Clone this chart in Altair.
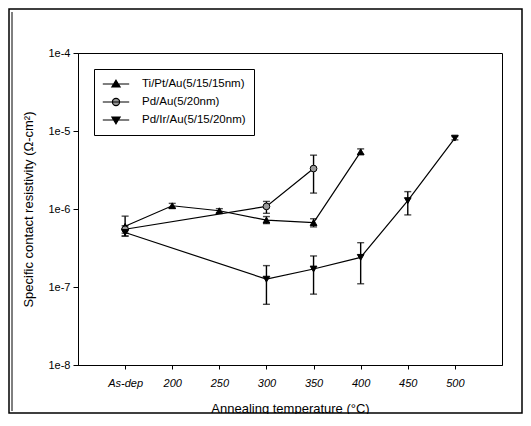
import altair as alt
import pandas as pd

# ---- data ----
series_names = ["Ti/Pt/Au(5/15/15nm)", "Pd/Au(5/20nm)", "Pd/Ir/Au(5/15/20nm)"]
x_ticks = [150, 200, 250, 300, 350, 400, 450, 500]   # 150 = As-dep
y_ticks = [1e-8, 1e-7, 1e-6, 1e-5, 1e-4]

ti_x = [150, 200, 250, 300, 350, 400]
ti_y = [6.0e-7, 1.10e-6, 9.5e-7, 7.2e-7, 6.7e-7, 5.4e-6]
ti_lo = [4.5e-7, 1.03e-6, 8.9e-7, 6.5e-7, 5.9e-7, 5.0e-6]
ti_hi = [8.1e-7, 1.18e-6, 1.01e-6, 8.0e-7, 7.5e-7, 5.9e-6]

pd_x = [150, 300, 350]
pd_y = [5.5e-7, 1.08e-6, 3.3e-6]
pd_lo = [4.9e-7, 8.8e-7, 1.6e-6]
pd_hi = [6.1e-7, 1.25e-6, 4.9e-6]

ir_x = [150, 300, 350, 400, 450, 500]
ir_y = [5.0e-7, 1.26e-7, 1.7e-7, 2.4e-7, 1.28e-6, 8.1e-6]
ir_lo = [4.5e-7, 6.0e-8, 8.1e-8, 1.1e-7, 8.4e-7, 7.7e-6]
ir_hi = [5.5e-7, 1.88e-7, 2.5e-7, 3.7e-7, 1.67e-6, 8.5e-6]

rows = []
for name, xs_, ys_, los, his in [
    (series_names[0], ti_x, ti_y, ti_lo, ti_hi),
    (series_names[1], pd_x, pd_y, pd_lo, pd_hi),
    (series_names[2], ir_x, ir_y, ir_lo, ir_hi),
]:
    for xv, yv, lo, hi in zip(xs_, ys_, los, his):
        rows.append({"series": name, "x": xv, "y": yv, "lo": lo, "hi": hi})
df = pd.DataFrame(rows)

W, H = 424, 312
PL, PT, PR, PB = 70, 45, 21, 49
FONT = "Liberation Sans"

xs = alt.Scale(domain=[100, 550], nice=False, zero=False)
ys = alt.Scale(type="log", domain=[1e-8, 1e-4], nice=False)

X = alt.X("x:Q", scale=xs, title="Annealing temperature (°C)",
          axis=alt.Axis(values=x_ticks, grid=False,
                        labelExpr="datum.value == 150 ? 'As-dep' : datum.label",
                        labelFontStyle="italic", labelFontSize=11, labelFont=FONT,
                        labelColor="black", tickColor="black", domainColor="black",
                        tickSize=4, labelPadding=8, titleFont=FONT, titleFontSize=13,
                        titleFontWeight="normal", titleColor="black", titlePadding=14))
Y = alt.Y("y:Q", scale=ys, title="Specific contact resistivity (Ω-cm²)",
          axis=alt.Axis(values=y_ticks, grid=False,
                        labelExpr="'1e' + round(log(datum.value)/LN10)",
                        labelFontSize=11, labelFont=FONT, labelColor="black",
                        tickColor="black", domainColor="black", tickSize=5,
                        labelPadding=3, titleFont=FONT, titleFontSize=13,
                        titleFontWeight="normal", titleColor="black", titlePadding=12))

base = alt.Chart(df)

lines = base.mark_line(color="black", strokeWidth=1.2).encode(
    x=X, y=Y, detail="series:N")

bars = base.mark_rule(color="black", strokeWidth=1.4).encode(
    x="x:Q", y="lo:Q", y2="hi:Q")
cap_lo = base.mark_tick(color="black", orient="horizontal", size=7, thickness=1.4).encode(
    x="x:Q", y="lo:Q")
cap_hi = base.mark_tick(color="black", orient="horizontal", size=7, thickness=1.4).encode(
    x="x:Q", y="hi:Q")

fill_range = ["black", "#9a9a9a", "black"]

markers = base.mark_point(filled=True, stroke="black", strokeWidth=1, opacity=1, size=45).encode(
    x="x:Q", y="y:Q",
    shape=alt.Shape("series:N", scale=alt.Scale(domain=series_names,
                    range=["triangle-up", "circle", "triangle-down"]), legend=None),
    fill=alt.Fill("series:N", scale=alt.Scale(domain=series_names, range=fill_range),
                  legend=None),
)

line_seg = "M-2.2,0H2.2"
paths = [
    line_seg + "M0,-0.62L0.68,0.5L-0.68,0.5Z",
    line_seg + "M0.6,0A0.6,0.6 0 1,1 -0.6,0A0.6,0.6 0 1,1 0.6,0Z",
    line_seg + "M0,0.62L0.68,-0.5L-0.68,-0.5Z",
]
leg = alt.Legend(title=None, orient="none", legendX=16, legendY=16,
                 symbolSize=144, symbolStrokeColor="black", symbolStrokeWidth=1.2,
                 symbolOpacity=1,
                 symbolOffset=7, labelOffset=19, labelFont=FONT, labelFontSize=11.5,
                 labelColor="black", rowPadding=5, padding=8,
                 strokeColor="black", fillColor="white")
legend_layer = base.mark_point(filled=True, strokeWidth=1.2, size=144, opacity=1).encode(
    x="x:Q", y="y:Q",
    shape=alt.Shape("series:N", scale=alt.Scale(domain=series_names, range=paths), legend=leg),
    fill=alt.Fill("series:N", scale=alt.Scale(domain=series_names, range=fill_range),
                  legend=leg),
    stroke=alt.Stroke("series:N", scale=alt.Scale(domain=series_names,
                      range=["black", "black", "black"]), legend=leg),
).transform_filter("datum.x < 0")

frame = alt.Chart(alt.Data(values=[{"a": 1}])).mark_rect(
    fill=None, stroke="black", strokeWidth=1.5).encode(
    x=alt.value(-PL + 1), x2=alt.value(W + PR - 1),
    y=alt.value(-PT + 1), y2=alt.value(H + PB - 1))
frame2 = alt.Chart(alt.Data(values=[{"a": 1}])).mark_rule(
    color="black", strokeWidth=1).encode(
    x=alt.value(-PL + 4), y=alt.value(-PT + 4), y2=alt.value(H + PB - 3))

chart = alt.layer(frame, frame2, lines, bars, cap_lo, cap_hi, markers, legend_layer).resolve_scale(
    shape="independent", fill="independent", stroke="independent"
).properties(
    width=W, height=H,
    autosize=alt.AutoSizeParams(type="none"),
    padding={"left": PL, "top": PT, "right": PR, "bottom": PB},
    background="white",
).configure_view(stroke="black", strokeWidth=1)

chart.save("out.html", embed_options={"renderer": "svg", "actions": False})
